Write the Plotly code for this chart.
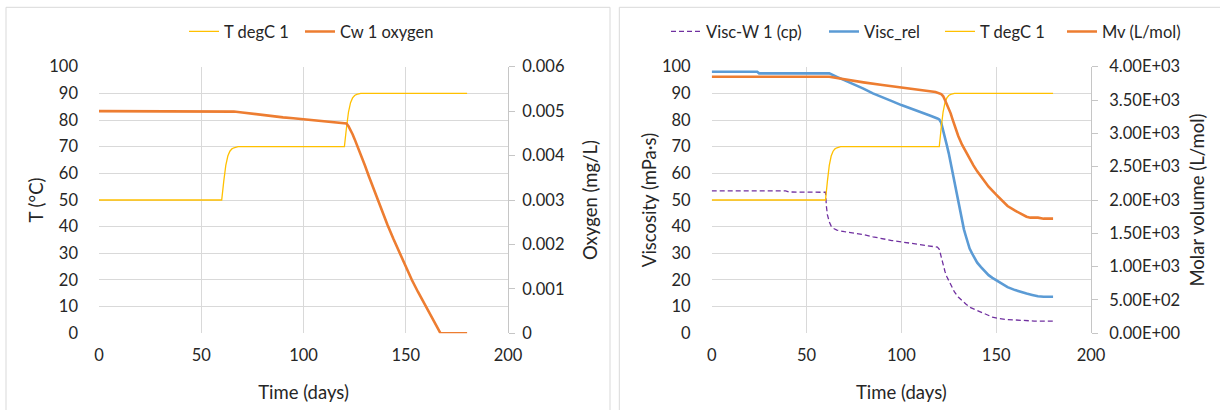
import plotly.graph_objects as go

# ---------------- data ----------------
T_DAYS = [0, 60, 61, 62, 63, 64, 65, 66, 68, 120, 121, 122, 123, 124, 125, 126, 128, 180]
T_DEGC = [50, 50, 57, 63, 66.5, 68.3, 69.2, 69.6, 70, 70, 77, 83, 86.5, 88.3, 89.2, 89.6, 90, 90]

OX_DAYS = [0, 62, 66, 70, 75, 80, 85, 90, 95, 100, 105, 110, 115, 120, 121, 122, 123, 124,
           125, 126, 128, 130, 132, 135, 138, 141, 144, 147, 150, 153, 156, 159, 162, 165, 167, 180]
OX = [0.005, 0.005, 0.00499, 0.00497, 0.00494, 0.00492, 0.00489, 0.00486, 0.00484, 0.00482,
      0.0048, 0.00478, 0.00476, 0.00474, 0.00472, 0.00466, 0.00458, 0.00448, 0.00437, 0.00426,
      0.00402, 0.00378, 0.00353, 0.00316, 0.0028, 0.00245, 0.00212, 0.0018, 0.0015, 0.0012,
      0.00093, 0.00067, 0.00042, 0.00018, 0.0, 0.0]

VW_DAYS = [0, 39, 41, 60, 60.5, 61, 62, 63, 64, 66, 70, 75, 80, 85, 90, 95, 100, 105, 110, 115,
           119, 120, 121, 122, 123, 124, 126, 128, 130, 132, 134, 136, 139, 142, 145, 148, 151,
           155, 160, 165, 170, 180]
VW = [53.4, 53.4, 53.0, 52.9, 47.5, 44.5, 41.8, 40.2, 39.4, 38.7, 38.1, 37.6, 37.0, 36.2, 35.4,
      34.8, 34.3, 33.8, 33.3, 32.8, 32.3, 31.5, 28.7, 25.5, 23.2, 21.2, 18.3, 15.5, 13.6, 12.2,
      11.0, 9.8, 8.8, 7.8, 6.9, 6.1, 5.6, 5.2, 5.0, 4.7, 4.6, 4.6]

VR_DAYS = [0, 24, 25, 62, 66, 70, 75, 80, 85, 90, 95, 100, 105, 110, 115, 119, 120, 121, 122, 123,
           124, 125, 126, 127, 128, 129, 130, 131, 132, 133, 134, 135, 136, 138, 140, 142, 144,
           146, 148, 150, 153, 156, 160, 163, 166, 169, 172, 175, 180]
VR = [98.1, 98.1, 97.5, 97.5, 96.2, 95.0, 93.5, 91.8, 90.0, 88.4, 87.1, 85.6, 84.2, 82.9, 81.7,
      80.6, 80.2, 79.0, 76.5, 73.5, 70.5, 67.5, 64.0, 60.5, 57.0, 53.0, 49.5, 45.5, 42.0, 39.0,
      36.5, 34.0, 31.8, 29.0, 26.5, 24.8, 23.2, 21.8, 20.8, 20.0, 18.5, 17.3, 16.2, 15.5, 14.9,
      14.4, 13.9, 13.7, 13.7]

MV_DAYS = [0, 62, 66, 70, 80, 90, 100, 110, 118, 121, 122, 123, 124, 125, 126, 127, 128, 130,
           132, 134, 136, 138, 140, 143, 146, 150, 153, 156, 160, 163, 166, 168, 172, 175, 180]
MV = [3850, 3850, 3830, 3810, 3765, 3725, 3690, 3655, 3620, 3590, 3560, 3500, 3440, 3370, 3300,
      3210, 3120, 2960, 2830, 2720, 2620, 2520, 2430, 2310, 2200, 2080, 1990, 1910, 1840, 1790,
      1750, 1735, 1735, 1720, 1720]

X_TICKS = [0, 50, 100, 150, 200]
Y_TICKS = [0, 10, 20, 30, 40, 50, 60, 70, 80, 90, 100]
OX_TICKVALS = [0, 0.001, 0.002, 0.003, 0.004, 0.005, 0.006]
OX_TICKTEXT = ["0", "0.001", "0.002", "0.003", "0.004", "0.005", "0.006"]
MV_TICKVALS = [0, 500, 1000, 1500, 2000, 2500, 3000, 3500, 4000]
MV_TICKTEXT = ["0.00E+00", "5.00E+02", "1.00E+03", "1.50E+03", "2.00E+03",
               "2.50E+03", "3.00E+03", "3.50E+03", "4.00E+03"]

# ---------------- style ----------------
W, H = 1220, 410
FONT = "Lato"
TXT = "#262626"
GRID = "#d9d9d9"
AXL = "#c6c6c6"
C_T = "#FFC000"
C_OR = "#ED7D31"
C_BL = "#5B9BD5"
C_PU = "#7030A0"


def px(x):
    return x / W


def py(y):
    return 1 - y / H


fig = go.Figure()

# left chart
fig.add_trace(go.Scatter(x=T_DAYS, y=T_DEGC, name="T degC 1", mode="lines",
                         line=dict(color=C_T, width=1.3), xaxis="x", yaxis="y", legend="legend"))
fig.add_trace(go.Scatter(x=OX_DAYS, y=OX, name="Cw 1 oxygen", mode="lines",
                         line=dict(color=C_OR, width=2.6), xaxis="x", yaxis="y2", legend="legend2"))

# right chart
fig.add_trace(go.Scatter(x=VW_DAYS, y=VW, name="Visc-W 1 (cp)", mode="lines",
                         line=dict(color=C_PU, width=1.3, dash="5px,3px"),
                         xaxis="x2", yaxis="y3", legend="legend3"))
fig.add_trace(go.Scatter(x=VR_DAYS, y=VR, name="Visc_rel", mode="lines",
                         line=dict(color=C_BL, width=2.6), xaxis="x2", yaxis="y3", legend="legend4"))
fig.add_trace(go.Scatter(x=T_DAYS, y=T_DEGC, name="T degC 1", mode="lines",
                         line=dict(color=C_T, width=1.3), xaxis="x2", yaxis="y3", legend="legend5"))
fig.add_trace(go.Scatter(x=MV_DAYS, y=MV, name="Mv (L/mol)", mode="lines",
                         line=dict(color=C_OR, width=2.6), xaxis="x2", yaxis="y4", legend="legend6"))

tickfont = dict(family=FONT, size=16.5, color=TXT)
titlefont = dict(family=FONT, size=18.5, color=TXT)

y_top, y_bot = 66.7, 333.3
ydom = [py(y_bot), py(y_top)]

common_x = dict(range=[0, 200], tickvals=X_TICKS, showgrid=True, gridcolor=GRID, gridwidth=1,
                zeroline=False, showline=False, ticks="", tickfont=tickfont, automargin=False,
                ticklabelstandoff=10, title=dict(text="Time (days)", font=titlefont, standoff=22),
                fixedrange=True)
common_y = dict(range=[0, 100], tickvals=Y_TICKS, showgrid=True, gridcolor=GRID, gridwidth=1,
                zeroline=False, showline=False, ticks="", tickfont=tickfont, automargin=False,
                ticklabelstandoff=20, fixedrange=True)
common_y2 = dict(showgrid=False, zeroline=False, showline=True, linecolor=AXL, linewidth=1,
                 ticks="outside", ticklen=6, tickcolor=AXL, tickfont=tickfont, side="right",
                 automargin=False, fixedrange=True)


def leg(x, y=31.7):
    return dict(x=px(x), y=py(y), xanchor="left", yanchor="middle", orientation="h",
                bgcolor="rgba(0,0,0,0)", borderwidth=0, font=dict(family=FONT, size=16.5, color=TXT))


fig.update_layout(
    width=W, height=H, autosize=False,
    margin=dict(l=0, r=0, t=0, b=0, pad=0, autoexpand=False),
    paper_bgcolor="white", plot_bgcolor="white",
    font=dict(family=FONT, color=TXT),
    showlegend=True,
    xaxis=dict(common_x, domain=[px(99), px(508)], anchor="y"),
    yaxis=dict(common_y, domain=ydom, anchor="x",
               title=dict(text="T (°C)", font=titlefont, standoff=0)),
    yaxis2=dict(common_y2, range=[0, 0.006], tickvals=OX_TICKVALS, ticktext=OX_TICKTEXT,
                overlaying="y", anchor="x", ticklabelstandoff=4,
                title=dict(text="Oxygen (mg/L)", font=titlefont, standoff=20)),
    xaxis2=dict(common_x, domain=[px(711.7), px(1091)], anchor="y3"),
    yaxis3=dict(common_y, domain=ydom, anchor="x2",
                title=dict(text="Viscosity (mPa·s)", font=titlefont, standoff=0)),
    yaxis4=dict(common_y2, range=[0, 4000], tickvals=MV_TICKVALS, ticktext=MV_TICKTEXT,
                overlaying="y3", anchor="x2", ticklabelstandoff=8,
                title=dict(text="Molar volume (L/mol)", font=titlefont, standoff=11)),
    legend=leg(184),
    legend2=leg(300),
    legend3=leg(666),
    legend4=leg(824),
    legend5=leg(940),
    legend6=leg(1062),
    shapes=[
        dict(type="rect", xref="paper", yref="paper", x0=px(6), x1=px(610), y0=py(420), y1=py(7.3),
             line=dict(color=GRID, width=1), fillcolor="rgba(0,0,0,0)", layer="below"),
        dict(type="rect", xref="paper", yref="paper", x0=px(619.3), x1=px(1230), y0=py(420), y1=py(7.3),
             line=dict(color=GRID, width=1), fillcolor="rgba(0,0,0,0)", layer="below"),
    ],
)

fig.write_html("out.html")
